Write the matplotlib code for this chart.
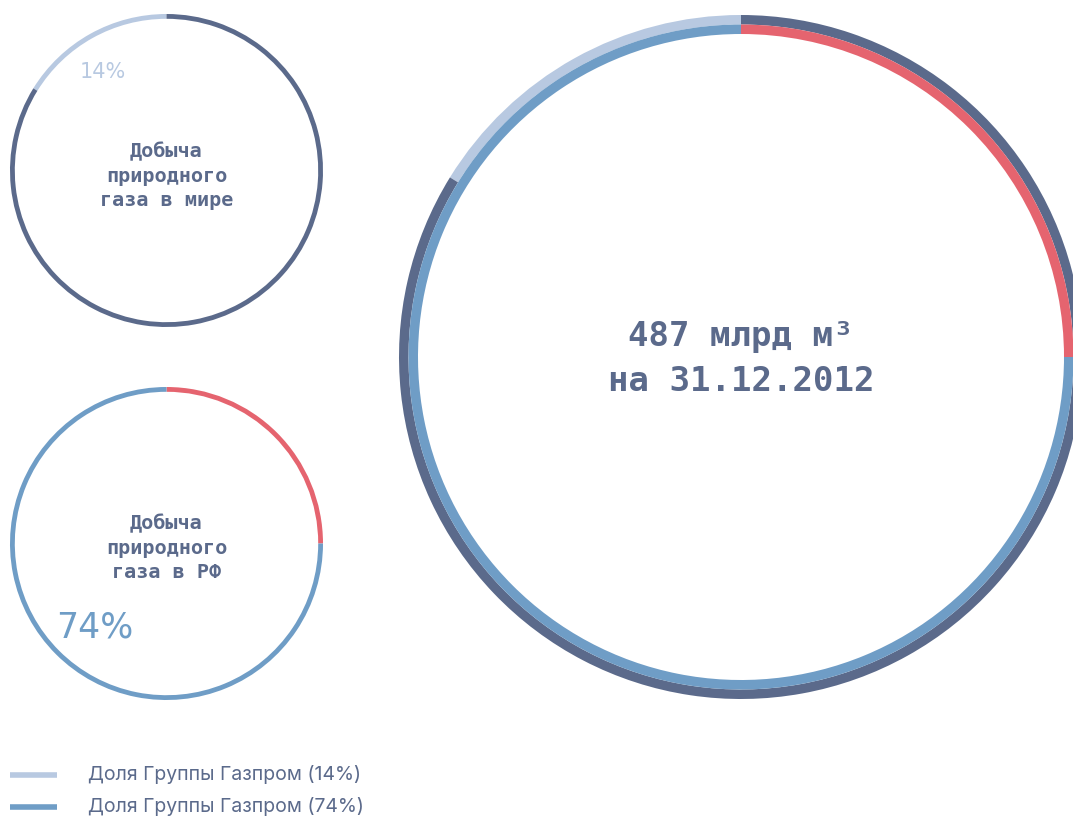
import matplotlib.pyplot as plt

# доли добычи газа, % (дуги — как нарисовано на рисунке, подписи — как в тексте)
world_labels = ['Группа Газпром', 'Прочие']
world_share = [16.2, 83.8]
world_pct = '14%'
rf_labels = ['Прочие', 'Группа Газпром']
rf_share = [25, 75]
rf_pct = '74%'
reserves_text = '487 млрд м³\nна 31.12.2012'
legend_labels = ['Доля Группы Газпром (14%)', 'Доля Группы Газпром (74%)']

c_dark = '#5b6a8b'
c_light = '#b8c9e1'
c_blue = '#6f9dc6'
c_red = '#e5646f'

W, H = 1073, 819
fig = plt.figure(figsize=(W / 100, H / 100), dpi=100)
ax = fig.add_axes([0, 0, 1, 1])


def ring(values, colors, cx, cy, r, w, counterclock):
    ax.pie(values, colors=colors, center=(cx, H - cy), radius=r, startangle=90,
           counterclock=counterclock, frame=True,
           wedgeprops=dict(width=w, linewidth=0))


# мир
ring(world_share, [c_light, c_dark], 166.5, 170.5, 156.5, 4.8, True)
# РФ
ring(rf_share, [c_red, c_blue], 166.5, 543.5, 156.5, 4.8, False)
# большой круг
ring(world_share, [c_light, c_dark], 741, 357, 342, 9.5, True)
ring(rf_share, [c_red, c_blue], 741, 357, 332.5, 9.5, False)

mono = 'DejaVu Sans Mono'
ax.text(166.5, H - 176, 'Добыча\nприродного\nгаза в мире', ha='center', va='center',
        family=mono, weight='bold', fontsize=14.5, color=c_dark, linespacing=1.33)
ax.text(166.5, H - 548, 'Добыча\nприродного\nгаза в РФ', ha='center', va='center',
        family=mono, weight='bold', fontsize=14.5, color=c_dark, linespacing=1.33)
ax.text(741, H - 359, reserves_text, ha='center', va='center',
        family=mono, weight='bold', fontsize=24.5, color=c_dark, linespacing=1.45)

ax.text(103, H - 72, world_pct, ha='center', va='center',
        family='DejaVu Sans', fontsize=15, color=c_light)
ax.text(95, H - 627, rf_pct, ha='center', va='center',
        family='DejaVu Sans', fontsize=25, color=c_blue)

# легенда
for y, col, lab in zip([775, 807], [c_light, c_blue], legend_labels):
    ax.plot([10, 57], [H - y, H - y], color=col, lw=4, solid_capstyle='butt')
    ax.text(88, H - y, lab, ha='left', va='center', family='Inter',
            fontsize=14, color=c_dark)

ax.set_xlim(0, W)
ax.set_ylim(0, H)
ax.set_aspect('equal')
ax.axis('off')
fig.savefig('out.png', dpi=100)
